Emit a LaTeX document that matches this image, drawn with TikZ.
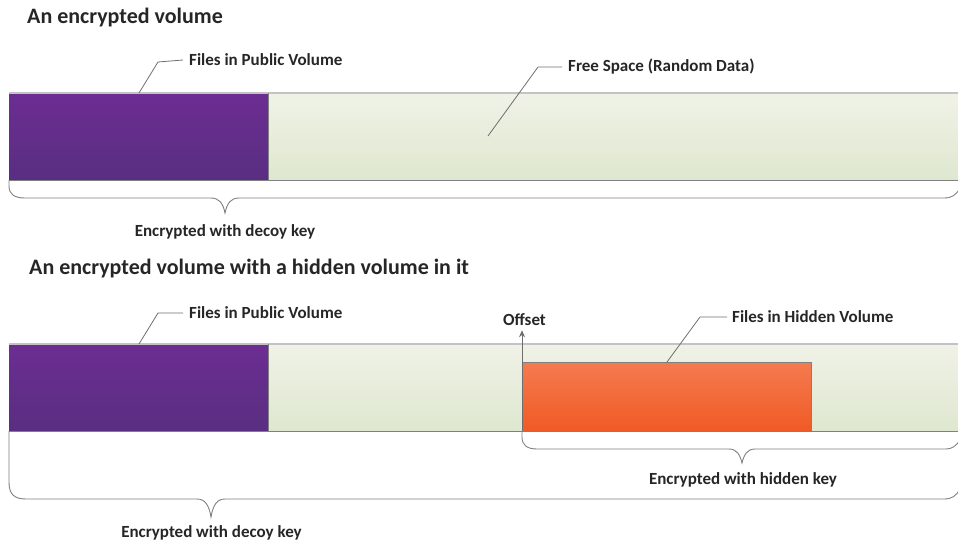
\documentclass[tikz,border=0pt]{standalone}
\usepackage{fontspec}
\setmainfont{Carlito}
\usetikzlibrary{arrows.meta}
\definecolor{txt}{RGB}{38,38,38}
\definecolor{purpT}{RGB}{108,45,146}
\definecolor{purpB}{RGB}{89,46,129}
\definecolor{grnT}{RGB}{240,242,231}
\definecolor{grnB}{RGB}{222,231,207}
\definecolor{orT}{RGB}{244,123,80}
\definecolor{orB}{RGB}{240,90,37}
\definecolor{edgeL}{RGB}{195,195,195}
\definecolor{edgeD}{RGB}{128,128,128}
\definecolor{leader}{RGB}{110,110,110}
\tikzset{
  bar/.style={rectangle, inner sep=0pt, outer sep=0pt, anchor=north west},
  purplebar/.style={bar, top color=purpT, bottom color=purpB},
  greenbar/.style={bar, top color=grnT, bottom color=grnB},
  orangebar/.style={bar, top color=orT, bottom color=orB, draw=edgeD, line width=0.9pt},
  lbl/.style={inner sep=0pt, text=txt, font=\fontsize{17}{20}\selectfont\bfseries},
  ttl/.style={inner sep=0pt, text=txt, font=\fontsize{22}{26}\selectfont\bfseries, anchor=base west},
  leaderline/.style={draw=leader, line width=0.8pt},
  bracelin/.style={draw=edgeD, line width=0.9pt},
}
\begin{document}
\begin{tikzpicture}[x=1pt,y=-1pt]
\useasboundingbox (0,0) rectangle (958,542);
% ---------- first diagram ----------
\node[ttl] (t1) at (27,23) {An encrypted volume};
\node[greenbar, minimum width=700pt, minimum height=87pt] (g1) at (268,93) {};
\node[purplebar, minimum width=259pt, minimum height=87pt] (p1) at (9,93) {};
\draw[edgeL, line width=1.4pt] (p1.north west) -- (g1.north east);
\draw[edgeD, line width=0.9pt] (p1.south west) -- (g1.south east);
\draw[edgeD, line width=0.9pt] (p1.north east) -- (p1.south east);
\node[lbl, anchor=west] (l1) at (189,60) {Files in Public Volume};
\node[lbl, anchor=west] (l2) at (568,67) {Free Space (Random Data)};
\coordinate (c1) at (139,93);
\coordinate (c2) at (488,136);
\draw[leaderline] (c1) -- ++(19,-31) -- ([xshift=-6pt]l1.west);
\draw[leaderline] (c2) -- ++(50,-69) -- ([xshift=-6pt]l2.west);
\draw[bracelin] (p1.south west) -- (9,186) .. controls (9,194) and (14,198) .. (25,198)
  -- (211,198) .. controls (219,198) and (223,203) .. (225,213)
  .. controls (227,203) and (231,198) .. (239,198)
  -- (944,198) .. controls (952,198) and (956,195) .. (960,188);
\node[lbl] (b1) at (225,232) {Encrypted with decoy key};
% ---------- second diagram ----------
\node[ttl] (t2) at (29,274) {An encrypted volume with a hidden volume in it};
\node[greenbar, minimum width=700pt, minimum height=87pt] (g2) at (268,344) {};
\node[purplebar, minimum width=259pt, minimum height=87pt] (p2) at (9,344) {};
\draw[edgeL, line width=1.4pt] (p2.north west) -- (g2.north east);
\node[orangebar, minimum width=289pt, minimum height=69pt] (o2) at (522,362) {};
\draw[edgeD, line width=0.9pt] (p2.south west) -- (g2.south east);
\draw[edgeD, line width=0.9pt] (p2.north east) -- (p2.south east);
\node[lbl, anchor=west] (l3) at (189,313) {Files in Public Volume};
\node[lbl, anchor=west] (l4) at (732,317) {Files in Hidden Volume};
\node[lbl] (off) at (524.5,320) {Offset};
\coordinate (c3) at (139,344);
\coordinate (c4) at (667,362);
\draw[leaderline] (c3) -- ++(19,-31) -- ([xshift=-6pt]l3.west);
\draw[leaderline] (c4) -- ++(33,-45) -- ([xshift=-5pt]l4.west);
\draw[draw=leader, line width=0.9pt, -{Stealth[length=7pt,width=6pt]}] (o2.south west) -- ([yshift=-4pt]off.south -| o2.south west);
\draw[bracelin] (o2.south west) -- (522,437) .. controls (522,445) and (527,449) .. (537,449)
  -- (729,449) .. controls (737,449) and (740,455) .. (742,463)
  .. controls (744,455) and (747,449) .. (755,449)
  -- (946,449) .. controls (952,449) and (956,446) .. (960,440);
\node[lbl] (b2) at (743,480) {Encrypted with hidden key};
\draw[bracelin] (p2.south west) -- (9,482) .. controls (9,494) and (14,499) .. (26,499)
  -- (197,499) .. controls (205,499) and (209,505) .. (211,517)
  .. controls (213,505) and (217,499) .. (225,499)
  -- (944,499) .. controls (952,499) and (956,496) .. (960,489);
\node[lbl] (b3) at (211.5,533) {Encrypted with decoy key};
\end{tikzpicture}
\end{document}
